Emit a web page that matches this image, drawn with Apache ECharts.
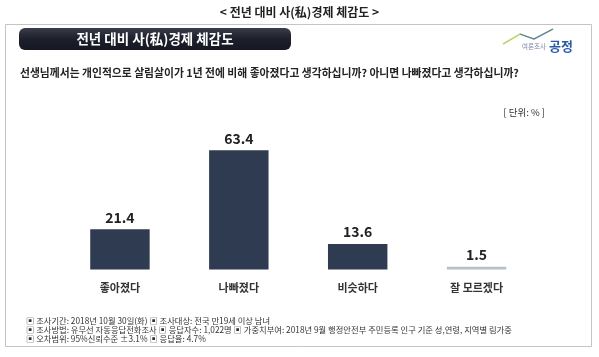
<!DOCTYPE html>
<html>
<head>
<meta charset="utf-8">
<script src="https://cdn.jsdelivr.net/npm/echarts@6/dist/echarts.min.js"></script>
<style>
html,body{margin:0;padding:0;background:#fff;}
#c{width:599px;height:357px;}
</style>
</head>
<body>
<div id="c"></div>
<script>
var categories = ['좋아졌다', '나빠졌다', '비슷하다', '잘 모르겠다'];
var values = [21.4, 63.4, 13.6, 1.5];
var barColors = ['#2f3b50', '#2f3b50', '#2f3b50', '#b7bfc7'];
var outerTitle = '< 전년 대비 사(私)경제 체감도 >';
var headerTitle = '전년 대비 사(私)경제 체감도';
var question = '선생님께서는 개인적으로 살림살이가 1년 전에 비해 좋아졌다고 생각하십니까? 아니면 나빠졌다고 생각하십니까?';
var unitText = '[ 단위: % ]';
var footnotes = [
  '▣ 조사기간: 2018년 10월 30일(화) ▣ 조사대상: 전국 만19세 이상 남녀',
  '▣ 조사방법: 유무선 자동응답전화조사 ▣ 응답자수: 1,022명 ▣ 가중치부여: 2018년 9월 행정안전부 주민등록 인구 기준 성,연령, 지역별 림가중',
  '▣ 오차범위: 95%신뢰수준 ±3.1% ▣ 응답율: 4.7%'
];

var FONT = '"Noto Sans CJK KR", "Noto Sans", sans-serif';
var chart = echarts.init(document.getElementById('c'), null, {renderer: 'canvas'});

var footGraphics = footnotes.map(function (t, i) {
  return {
    type: 'text', x: 26, y: 320.7 + i * 9.2,
    style: {text: t, fontFamily: FONT, fontSize: 8.3, fill: '#333', textVerticalAlign: 'middle'}
  };
});

chart.setOption({
  animation: false,
  backgroundColor: '#fff',
  grid: {left: 60.5, right: 63, top: 137.8, bottom: 87.5},
  xAxis: {
    type: 'category', data: categories,
    axisLine: {show: false}, axisTick: {show: false},
    axisLabel: {margin: 13, fontFamily: FONT, fontSize: 11, fontWeight: 'bold', color: '#333'}
  },
  yAxis: {type: 'value', min: 0, max: 70, show: false, splitLine: {show: false}},
  series: [{
    type: 'bar', barWidth: '50%',
    data: values.map(function (v, i) { return {value: v, itemStyle: {color: barColors[i]}}; }),
    label: {show: true, position: 'top', distance: 5, fontFamily: FONT, fontSize: 14, fontWeight: 'bold', color: '#222'}
  }],
  graphic: [
    {type: 'rect', shape: {x: 5.5, y: 24.5, width: 586, height: 322}, style: {fill: 'none', stroke: '#c4c4c4', lineWidth: 1}, z: 0},
    {type: 'text', left: 'center', top: 6, style: {text: outerTitle, fontFamily: FONT, fontSize: 12, fontWeight: 'bold', fill: '#222'}},
    {type: 'rect', shape: {x: 19, y: 28, width: 272, height: 22, r: 6},
     style: {fill: {type: 'linear', x: 0, y: 0, x2: 0, y2: 1, colorStops: [{offset: 0, color: '#3a3d4a'}, {offset: 0.5, color: '#1d202b'}, {offset: 1, color: '#151821'}]}}},
    {type: 'text', x: 155, y: 39, style: {text: headerTitle, fontFamily: FONT, fontSize: 13.5, fontWeight: 'bold', fill: '#fff', textAlign: 'center', textVerticalAlign: 'middle'}},
    {type: 'polyline', shape: {points: [[503, 44], [520, 34], [534, 39], [553, 29]]}, style: {stroke: '#b8d56a', lineWidth: 1.5, fill: 'none'}},
    {type: 'polyline', shape: {points: [[520, 34], [534, 39], [553, 29]]}, style: {stroke: '#5b7fb8', lineWidth: 1.2, fill: 'none'}},
    {type: 'text', x: 522, y: 47, style: {text: '여론조사', fontFamily: FONT, fontSize: 6.5, fill: '#7a8aa8', textVerticalAlign: 'middle'}},
    {type: 'text', x: 549, y: 46, style: {text: '공정', fontFamily: FONT, fontSize: 13, fontWeight: 'bold', fill: '#2a5aa6', textVerticalAlign: 'middle'}},
    {type: 'text', x: 20, y: 73, style: {text: question, fontFamily: FONT, fontSize: 10.8, fontWeight: 'bold', fill: '#222', textVerticalAlign: 'middle'}},
    {type: 'text', x: 545, y: 112, style: {text: unitText, fontFamily: FONT, fontSize: 9.5, fill: '#333', textAlign: 'right', textVerticalAlign: 'middle'}}
  ].concat(footGraphics)
});
</script>
</body>
</html>
